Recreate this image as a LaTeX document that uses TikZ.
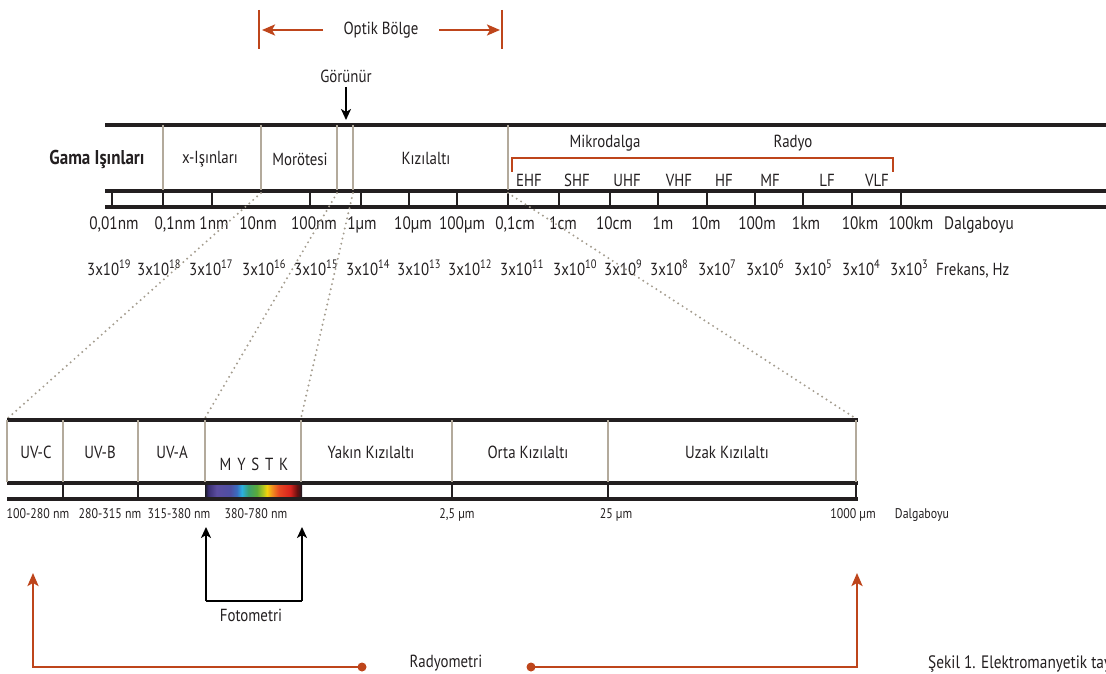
\documentclass[tikz,border=0pt]{standalone}
\usepackage{fontspec}
\setmainfont{PT Sans}[FakeStretch=0.85]
\usetikzlibrary{arrows.meta}
\definecolor{rust}{HTML}{BE451B}
\definecolor{sepc}{HTML}{B3AA9C}
\definecolor{dotc}{HTML}{A39C8E}
\definecolor{barc}{HTML}{231F20}
\definecolor{spa}{HTML}{3B2F73}
\definecolor{spb}{HTML}{5B4DA0}
\definecolor{spc}{HTML}{4E4FA3}
\definecolor{spd}{HTML}{3B6CC0}
\definecolor{spe}{HTML}{2BB0E0}
\definecolor{spf}{HTML}{3AA070}
\definecolor{spg}{HTML}{5AAA3A}
\definecolor{sph}{HTML}{B8C820}
\definecolor{spi}{HTML}{F4D20C}
\definecolor{spj}{HTML}{F0901E}
\definecolor{spk}{HTML}{E84A22}
\definecolor{spl}{HTML}{D8231E}
\definecolor{spm}{HTML}{6A1010}
\definecolor{spz}{HTML}{1A1A22}
\pgfdeclarehorizontalshading{spectrum}{100bp}{%
color(0bp)=(spz); color(25bp)=(spz); color(26.7bp)=(spa);
color(31bp)=(spb); color(38bp)=(spc); color(41.4bp)=(spd);
color(44bp)=(spe); color(47.4bp)=(spf); color(51.7bp)=(spg);
color(55.2bp)=(sph); color(56.9bp)=(spi); color(59.5bp)=(spj);
color(62.9bp)=(spk); color(69bp)=(spl); color(72.4bp)=(spm);
color(75bp)=(spz); color(100bp)=(spz)}
\begin{document}
\begin{tikzpicture}[x=1pt,y=-1pt,
  bar/.style={draw=barc,line width=3.4pt},
  sep/.style={draw=sepc,line width=2pt},
  tck/.style={draw=barc,line width=2.6pt},
  dotl/.style={draw=dotc,line width=2.2pt,line cap=round,dash pattern=on 0pt off 5.2pt},
  redl/.style={draw=rust,line width=2.4pt},
  lab/.style={inner sep=0pt,text=barc,font=\fontsize{17.5}{19}\selectfont},
  wl/.style={lab,anchor=base,font=\fontsize{18}{20}\selectfont},
  fq/.style={lab,anchor=base west,font=\fontsize{17.5}{19}\selectfont},
  sm/.style={lab,anchor=base,font=\fontsize{14}{16}\selectfont},
  blk/.style={-{Stealth[length=11pt,width=10pt,inset=3pt]},draw=black,line width=2.2pt},
  rarr/.style={redl,-{Stealth[length=13pt,width=11pt,inset=3pt]}}
]
\useasboundingbox (0,0) rectangle (1106,674);
\clip (0,0) rectangle (1106,674);

% ---------- Optik Bolge ----------
\node[lab] (optik) at (381,30) {Optik Bölge};
\coordinate (oL) at (259,10); \coordinate (oLb) at (259,49);
\coordinate (oR) at (502,10); \coordinate (oRb) at (502,49);
\draw[redl] (oL) -- (oLb);
\draw[redl] (oR) -- (oRb);
\coordinate (oLt) at (262,30); \coordinate (oRt) at (500,30);
\coordinate (oLs) at (323,30); \coordinate (oRs) at (439,30);
\draw[rarr] (oLs) -- (oLt);
\draw[rarr] (oRs) -- (oRt);

% ---------- Gorunur ----------
\node[lab] (gor) at (346,76) {Görünür};
\coordinate (gorS) at (346,87);
\coordinate (gorTip) at (346,120);
\draw[blk] (gorS) -- (gorTip);

% ---------- upper scale ----------
\draw[bar] (105,125) -- (1106,125);
\draw[bar] (105,191) -- (1106,191);
\draw[bar] (105,207) -- (1106,207);
\foreach \x in {163,261,337,353,508} \draw[sep] (\x,125) -- (\x,190);
\foreach \x in {112,163,212,310,361,409,457,508,559,610,658,707,755,803,852,901}
  \draw[tck] (\x,191) -- (\x,207);

\node[lab,font=\fontsize{20}{22}\selectfont\bfseries] (gama) at (97,159) {Gama Işınları};
\node[lab] (xray) at (210,159) {x-Işınları};
\node[lab] (uv) at (300,159) {Morötesi};
\node[lab] (ir) at (426,158) {Kızılaltı};
\node[lab] (mw) at (605,143) {Mikrodalga};
\node[lab] (radio) at (793,143) {Radyo};
\draw[redl] (512,172) -- (512,158) -- (893,158) -- (893,172);
\foreach \t/\x in {EHF/529,SHF/577,UHF/627,VHF/679,HF/724,MF/770,LF/827,VLF/877}
  \node[lab] (b\t) at (\x,180) {\t};

\foreach \t/\x [count=\i] in {{0,01nm}/114,{0,1nm}/175,1nm/214,10nm/258,100nm/314,1µm/362,10µm/413,100µm/462,{0,1cm}/515,1cm/563,10cm/614,1m/663,10m/706,100m/757,1km/806,10km/860,100km/911,Dalgaboyu/979}
  \node[wl] (w\i) at (\x,229) {\t};

\foreach \e/\x [count=\i] in {19/87,18/137,17/189,16/242,15/294,14/346,13/397,12/448,11/500,10/553,9/604,8/650,7/698,6/746,5/794,4/842,3/890}
  \node[fq] (f\i) at (\x,275) {3x10\textsuperscript{\e}};
\node[fq] (fhz) at (936,275) {Frekans, Hz};

% ---------- dotted zoom lines ----------
\coordinate (d1a) at (261,193); \coordinate (d1b) at (8,418);
\coordinate (d2a) at (337,193); \coordinate (d2b) at (205,418);
\coordinate (d3a) at (353,193); \coordinate (d3b) at (301,418);
\coordinate (d4a) at (508,193); \coordinate (d4b) at (855,418);
\draw[dotl] (d1a) -- (d1b);
\draw[dotl] (d2a) -- (d2b);
\draw[dotl] (d3a) -- (d3b);
\draw[dotl] (d4a) -- (d4b);

% ---------- lower scale ----------
\shade[shading=spectrum] (205,484) rectangle (302,498);
\draw[bar] (7,420) -- (858,420);
\draw[bar] (7,483) -- (858,483);
\draw[bar] (7,499) -- (858,499);
\foreach \x in {7,63,138,205,301,452,608,856} \draw[sep] (\x,420) -- (\x,482);
\foreach \x in {63,138,452,608,856} \draw[tck] (\x,483) -- (\x,499);

\node[lab] (uvc) at (36,452) {UV-C};
\node[lab] (uvb) at (100,452) {UV-B};
\node[lab] (uva) at (172,452) {UV-A};
\node[lab] (vis) at (254,464) {M\,\,Y\,\,S\,\,T\,\,K};
\node[lab] (nir) at (371,452) {Yakın Kızılaltı};
\node[lab] (mir) at (528,452) {Orta Kızılaltı};
\node[lab] (fir) at (727,452) {Uzak Kızılaltı};

\foreach \t/\x [count=\i] in {100-280 nm/38,280-315 nm/110,315-380 nm/179,380-780 nm/256,{2,5 µm}/457,25 µm/616,1000 µm/853,Dalgaboyu/922}
  \node[sm] (l\i) at (\x,518) {\t};

% ---------- Fotometri ----------
\node[lab] (foto) at (251,615) {Fotometri};
\coordinate (fL) at (206,601); \coordinate (fR) at (302,601);
\coordinate (fLt) at (206,527); \coordinate (fRt) at (302,527);
\draw[draw=black,line width=2.2pt] (fL) -- (fR);
\draw[blk] (fL) -- (fLt);
\draw[blk] (fR) -- (fRt);

% ---------- Radyometri ----------
\node[lab] (rad) at (446,663) {Radyometri};
\coordinate (rL) at (362,667); \coordinate (rR) at (531,667);
\coordinate (rLc) at (33,667); \coordinate (rRc) at (857,667);
\coordinate (rLt) at (33,573); \coordinate (rRt) at (857,573);
\fill[rust] (rL) circle (4.5);
\fill[rust] (rR) circle (4.5);
\draw[rarr] (rL) -- (rLc) -- (rLt);
\draw[rarr] (rR) -- (rRc) -- (rRt);

\node[lab,anchor=west,font=\fontsize{18}{20}\selectfont] (sekil) at (928,664) {Şekil 1. Elektromanyetik tayf};
\end{tikzpicture}
\end{document}
